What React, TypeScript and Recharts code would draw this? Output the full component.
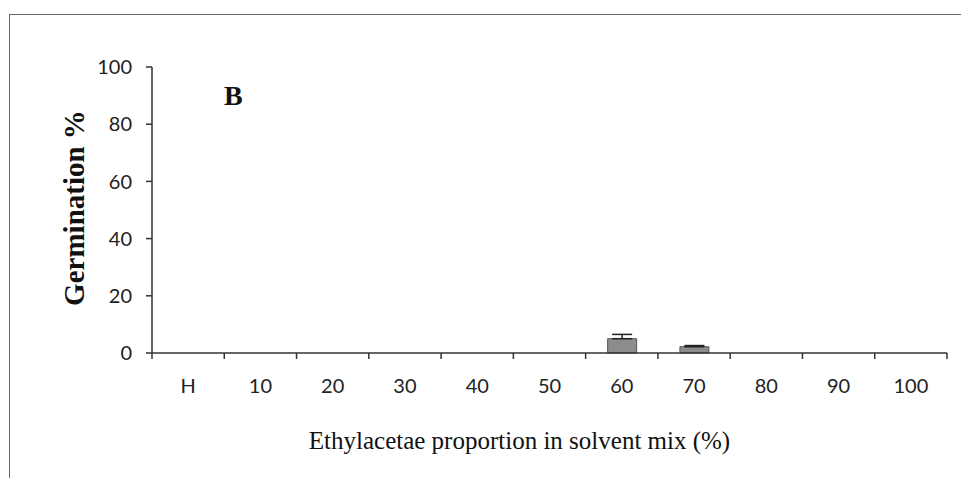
import React from 'react';
import { BarChart, Bar, XAxis, YAxis, ErrorBar, Label } from 'recharts';

const categories = ['H', '10', '20', '30', '40', '50', '60', '70', '80', '90', '100'];
const germination = [0, 0, 0, 0, 0, 0, 5.0, 2.2, 0, 0, 0];
const errorUp: (number | null)[] = [null, null, null, null, null, null, 1.5, 0.4, null, null, null];
const yTicks = [0, 20, 40, 60, 80, 100];

const data = categories.map((name, i) => ({
  name,
  value: germination[i],
  err: errorUp[i] == null ? null : [0, errorUp[i]],
}));

const WIDTH = 961;
const HEIGHT = 478;
const X_AXIS_H = 100;
const MARGIN = { top: 67, right: 14, bottom: 25, left: 0 };
const Y_AXIS_W = 152;
const BAND = (WIDTH - MARGIN.left - MARGIN.right - Y_AXIS_W) / categories.length;

const AXIS_COLOR = '#333';
const TICK_FONT = { fontFamily: 'Lato, sans-serif', fontSize: 20, fill: '#222' };

// category label in the middle of the band, tick mark on the band edges
const CategoryTick = (props: any) => {
  const { x, y, payload, index } = props;
  const left = x - BAND / 2;
  return (
    <g>
      <line x1={left} y1={y} x2={left} y2={y + 6} stroke={AXIS_COLOR} strokeWidth={1.5} />
      {index === categories.length - 1 && (
        <line x1={x + BAND / 2} y1={y} x2={x + BAND / 2} y2={y + 6} stroke={AXIS_COLOR} strokeWidth={1.5} />
      )}
      <text x={x} y={y + 32} textAnchor="middle" dominantBaseline="central" {...TICK_FONT}>
        {payload.value}
      </text>
    </g>
  );
};

const YTitle = (props: any) => {
  const vb = props.viewBox || { x: 0, y: MARGIN.top, height: 286 };
  const cx = vb.x + 74;
  const cy = vb.y + vb.height / 2 - 2;
  return (
    <text
      x={cx}
      y={cy}
      transform={`rotate(-90 ${cx} ${cy})`}
      textAnchor="middle"
      dominantBaseline="central"
      fontFamily="'Liberation Serif', 'Times New Roman', serif"
      fontWeight="bold"
      fontSize={29}
      fill="#111"
    >
      Germination %
    </text>
  );
};

const XTitle = (props: any) => {
  const vb = props.viewBox || { x: Y_AXIS_W, y: HEIGHT - MARGIN.bottom - X_AXIS_H, width: 795 };
  return (
    <text
      x={vb.x + vb.width / 2 - 30}
      y={vb.y + 87}
      textAnchor="middle"
      dominantBaseline="central"
      fontFamily="'Liberation Serif', 'Times New Roman', serif"
      fontSize={25}
      fill="#111"
    >
      Ethylacetae proportion in solvent mix (%)
    </text>
  );
};

export default function App() {
  return (
    <div style={{ position: 'fixed', top: 0, left: 0, width: WIDTH, height: HEIGHT, background: '#fff' }}>
      <div
        style={{
          position: 'absolute',
          left: 9,
          top: 14,
          right: -2,
          bottom: -2,
          borderTop: '1.5px solid #666',
          borderLeft: '1.5px solid #666',
        }}
      />
      <div
        style={{
          position: 'absolute',
          left: 224,
          top: 80,
          fontFamily: "'Liberation Serif', 'Times New Roman', serif",
          fontWeight: 'bold',
          fontSize: 28,
          color: '#111',
        }}
      >
        B
      </div>
      <BarChart width={WIDTH} height={HEIGHT} data={data} margin={MARGIN} barSize={29}>
        <XAxis
          dataKey="name"
          stroke={AXIS_COLOR}
          strokeWidth={1.5}
          tickLine={false}
          tickSize={0}
          tickMargin={0}
          interval={0}
          tick={<CategoryTick />}
          height={X_AXIS_H}
        >
          <Label content={<XTitle />} />
        </XAxis>
        <YAxis
          domain={[0, 100]}
          ticks={yTicks}
          width={Y_AXIS_W}
          stroke={AXIS_COLOR}
          strokeWidth={1.5}
          tickSize={6}
          tickMargin={14}
          tick={TICK_FONT}
          interval={0}
        >
          <Label content={<YTitle />} />
        </YAxis>
        <Bar dataKey="value" fill="#8c8c8c" stroke="#555" strokeWidth={1} isAnimationActive={false}>
          <ErrorBar dataKey="err" width={10} stroke="#222" strokeWidth={1.5} direction="y" />
        </Bar>
      </BarChart>
    </div>
  );
}
